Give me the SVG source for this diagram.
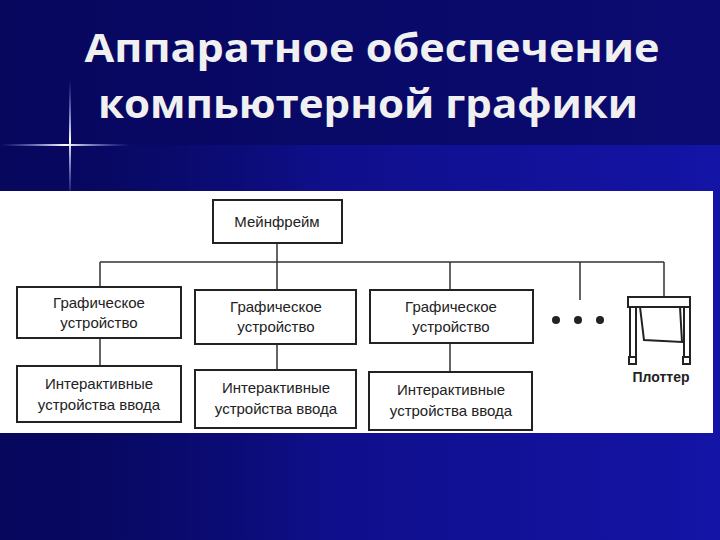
<svg xmlns="http://www.w3.org/2000/svg" width="720" height="540" viewBox="0 0 720 540">
<defs>
<linearGradient id="bg" x1="0" y1="0" x2="1" y2="0"><stop offset="0" stop-color="#07075e"/><stop offset="1" stop-color="#0b0b72"/></linearGradient>
<linearGradient id="band" x1="0" y1="0" x2="1" y2="0"><stop offset="0" stop-color="#0b0b70" stop-opacity="0"/><stop offset="0.4" stop-color="#0f0f8c"/><stop offset="1" stop-color="#1414a6"/></linearGradient>
<linearGradient id="hl" x1="0" y1="0" x2="1" y2="0"><stop offset="0" stop-color="#8899ff" stop-opacity="0"/><stop offset="0.5" stop-color="#ffffff"/><stop offset="1" stop-color="#8899ff" stop-opacity="0"/></linearGradient>
<linearGradient id="vl" x1="0" y1="0" x2="0" y2="1"><stop offset="0" stop-color="#8899ff" stop-opacity="0"/><stop offset="0.5" stop-color="#ffffff"/><stop offset="1" stop-color="#8899ff" stop-opacity="0"/></linearGradient>
<style>
.t{font-family:"Open Sans","DejaVu Sans",sans-serif;font-weight:bold;font-size:40px;fill:#f0f0f0;text-anchor:middle}
.b{fill:#fff;stroke:#222;stroke-width:2}
.l{font-family:"Liberation Sans",Arial,sans-serif;font-size:15px;fill:#222;text-anchor:middle}
.c{stroke:#333;stroke-width:1.5;fill:none}
</style>
</defs>
<rect width="720" height="540" fill="url(#bg)"/>
<rect x="70" y="145" width="650" height="395" fill="url(#band)"/>
<rect x="0" y="144" width="130" height="2" fill="url(#hl)"/>
<rect x="69" y="80" width="2" height="120" fill="url(#vl)"/>
<text class="t" x="372" y="62" textLength="575" lengthAdjust="spacingAndGlyphs">Аппаратное обеспечение</text>
<text class="t" x="368" y="118" textLength="540" lengthAdjust="spacingAndGlyphs">компьютерной графики</text>
<rect x="0" y="191" width="713" height="242" fill="#fff"/>
<g id="connectors" class="c">
<path d="M100 262H664M100 262V287M100 338V366M277 243V290M277 344V370M450 262V290M450 343V372M580 262V300M664 262V297"/>
</g>
<g id="mainframe"><rect class="b" x="213" y="200" width="129" height="43"/><text class="l" x="277" y="227">Мейнфрейм</text></g>
<g id="gd1"><rect class="b" x="17" y="287" width="164" height="51"/><text class="l" x="99" y="308">Графическое</text><text class="l" x="99" y="328">устройство</text></g>
<g id="gd2"><rect class="b" x="195" y="290" width="161" height="54"/><text class="l" x="276" y="312">Графическое</text><text class="l" x="276" y="332">устройство</text></g>
<g id="gd3"><rect class="b" x="370" y="290" width="163" height="53"/><text class="l" x="451" y="312">Графическое</text><text class="l" x="451" y="332">устройство</text></g>
<g id="in1"><rect class="b" x="17" y="366" width="164" height="56"/><text class="l" x="99" y="389">Интерактивные</text><text class="l" x="99" y="410">устройства ввода</text></g>
<g id="in2"><rect class="b" x="195" y="370" width="161" height="58"/><text class="l" x="276" y="393">Интерактивные</text><text class="l" x="276" y="414">устройства ввода</text></g>
<g id="in3"><rect class="b" x="369" y="372" width="163" height="58"/><text class="l" x="451" y="395">Интерактивные</text><text class="l" x="451" y="416">устройства ввода</text></g>
<g id="dots" fill="#222"><circle cx="556" cy="320" r="4"/><circle cx="578" cy="320" r="4"/><circle cx="600" cy="320" r="4"/></g>
<g id="plotter">
<g fill="none" stroke="#222" stroke-width="2">
<rect x="628" y="297" width="62" height="10"/>
<rect x="630" y="307" width="6" height="50"/><rect x="684" y="307" width="6" height="50"/>
<path d="M640 307 L644 340 L682 342 L680 307"/>
<rect x="629" y="357" width="7" height="7"/><rect x="683" y="357" width="7" height="7"/>
</g>
<text x="661" y="382" font-family="Liberation Sans,Arial,sans-serif" font-weight="bold" font-size="14" fill="#222" text-anchor="middle">Плоттер</text>
</g>
</svg>
